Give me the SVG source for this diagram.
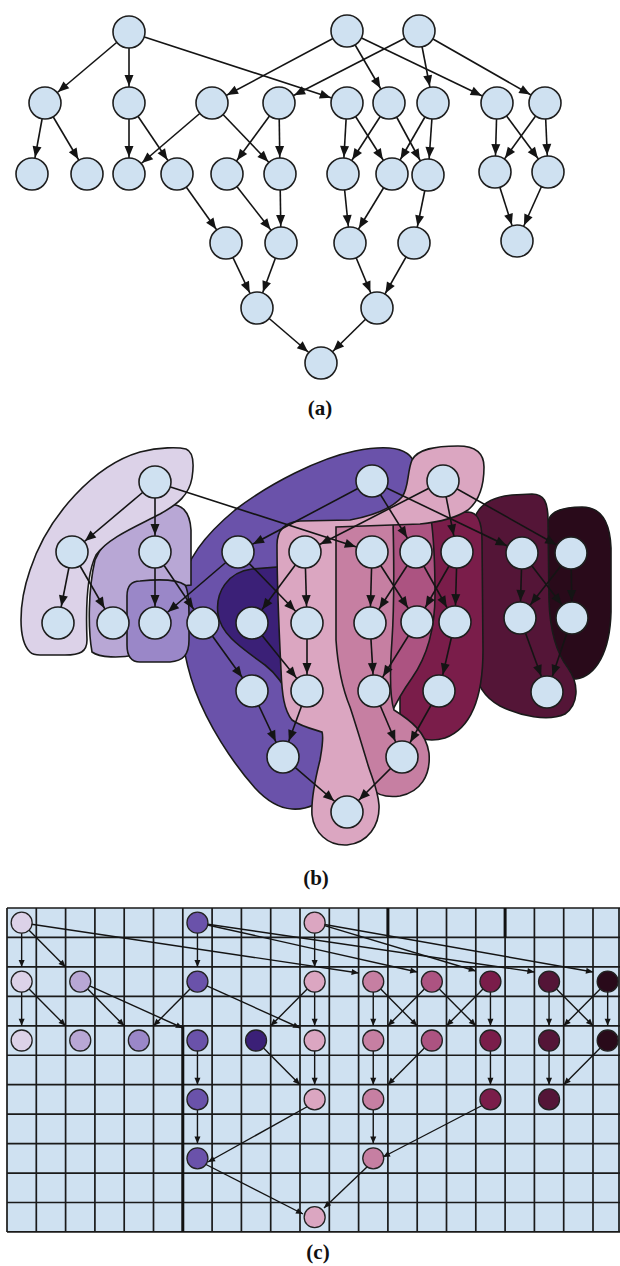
<svg xmlns="http://www.w3.org/2000/svg" width="620" height="1266" viewBox="0 0 620 1266">
  <style>
    .n { fill:#cfe1f1; stroke:#1e1e1e; stroke-width:1.6 }
    .e line { stroke:#141414; stroke-width:1.6; marker-end:url(#ah) }
    .ec line { stroke:#141414; stroke-width:1.4; marker-end:url(#ahc) }
    .blob { stroke:#1a1a1a; stroke-width:1.6 }
    .cn { stroke:#222; stroke-width:1.3 }
    .grid { fill:none; stroke:#1a1a1a; stroke-width:1.7 }
    .lbl { font-family:"Liberation Serif", "Times New Roman", serif; font-weight:bold; font-size:21px; text-anchor:middle; fill:#111 }
    .k1 { fill:#dcd2e8 } .k2 { fill:#b8a7d5 } .k3 { fill:#9a87c8 } .k4 { fill:#6a52aa }
    .k5 { fill:#3b2077 } .k6 { fill:#dba6c1 } .k7 { fill:#c67fa2 } .k8 { fill:#ac5381 }
    .k9 { fill:#7a1d4a } .k10 { fill:#541537 } .k11 { fill:#290a1a }
  </style>
  <defs>
    <!-- arrowhead whose tip stops at the rim of a radius-16 node -->
    <marker id="ah" markerUnits="userSpaceOnUse" markerWidth="11" markerHeight="9" refX="28" refY="4.5" orient="auto" overflow="visible">
      <path d="M0,0 L11,4.5 L0,9 Z" fill="#141414"/>
    </marker>
    <!-- small arrowhead for the grid layout, tip at the line end -->
    <marker id="ahc" markerUnits="userSpaceOnUse" markerWidth="8" markerHeight="6" refX="7" refY="3" orient="auto" overflow="visible">
      <path d="M0,0 L7,3 L0,6 Z" fill="#141414"/>
    </marker>
  </defs>
  <rect width="620" height="1266" fill="#ffffff"/>

  <!-- ===== (a) plain layered graph ===== -->
  <g id="a-edges" class="e">
    <line x1="129" y1="32" x2="45" y2="103"/>
    <line x1="129" y1="32" x2="129" y2="103"/>
    <line x1="129" y1="32" x2="347" y2="103"/>
    <line x1="347" y1="31" x2="212" y2="103"/>
    <line x1="347" y1="31" x2="389" y2="103"/>
    <line x1="347" y1="31" x2="497" y2="103"/>
    <line x1="419" y1="31" x2="279" y2="103"/>
    <line x1="419" y1="31" x2="433" y2="103"/>
    <line x1="419" y1="31" x2="545" y2="103"/>
    <line x1="45" y1="103" x2="32" y2="174"/>
    <line x1="45" y1="103" x2="87" y2="174"/>
    <line x1="129" y1="103" x2="129" y2="174"/>
    <line x1="129" y1="103" x2="177" y2="174"/>
    <line x1="212" y1="103" x2="129" y2="174"/>
    <line x1="212" y1="103" x2="280" y2="174"/>
    <line x1="279" y1="103" x2="227" y2="174"/>
    <line x1="279" y1="103" x2="280" y2="174"/>
    <line x1="347" y1="103" x2="343" y2="174"/>
    <line x1="347" y1="103" x2="392" y2="174"/>
    <line x1="389" y1="103" x2="343" y2="174"/>
    <line x1="389" y1="103" x2="428" y2="175"/>
    <line x1="433" y1="103" x2="392" y2="174"/>
    <line x1="433" y1="103" x2="428" y2="175"/>
    <line x1="497" y1="103" x2="495" y2="172"/>
    <line x1="497" y1="103" x2="548" y2="172"/>
    <line x1="545" y1="103" x2="495" y2="172"/>
    <line x1="545" y1="103" x2="548" y2="172"/>
    <line x1="177" y1="174" x2="226" y2="243"/>
    <line x1="227" y1="174" x2="281" y2="243"/>
    <line x1="280" y1="174" x2="281" y2="243"/>
    <line x1="343" y1="174" x2="350" y2="243"/>
    <line x1="392" y1="174" x2="350" y2="243"/>
    <line x1="428" y1="175" x2="414" y2="243"/>
    <line x1="495" y1="172" x2="517" y2="241"/>
    <line x1="548" y1="172" x2="517" y2="241"/>
    <line x1="226" y1="243" x2="257" y2="308"/>
    <line x1="281" y1="243" x2="257" y2="308"/>
    <line x1="350" y1="243" x2="377" y2="308"/>
    <line x1="414" y1="243" x2="377" y2="308"/>
    <line x1="257" y1="308" x2="321" y2="363"/>
    <line x1="377" y1="308" x2="321" y2="363"/>
  </g>
  <g id="a-A1"><circle class="n" cx="129" cy="32" r="16"/></g>
  <g id="a-A2"><circle class="n" cx="347" cy="31" r="16"/></g>
  <g id="a-A3"><circle class="n" cx="419" cy="31" r="16"/></g>
  <g id="a-B1"><circle class="n" cx="45" cy="103" r="16"/></g>
  <g id="a-B2"><circle class="n" cx="129" cy="103" r="16"/></g>
  <g id="a-B3"><circle class="n" cx="212" cy="103" r="16"/></g>
  <g id="a-B4"><circle class="n" cx="279" cy="103" r="16"/></g>
  <g id="a-B5"><circle class="n" cx="347" cy="103" r="16"/></g>
  <g id="a-B6"><circle class="n" cx="389" cy="103" r="16"/></g>
  <g id="a-B7"><circle class="n" cx="433" cy="103" r="16"/></g>
  <g id="a-B8"><circle class="n" cx="497" cy="103" r="16"/></g>
  <g id="a-B9"><circle class="n" cx="545" cy="103" r="16"/></g>
  <g id="a-C1"><circle class="n" cx="32" cy="174" r="16"/></g>
  <g id="a-C2"><circle class="n" cx="87" cy="174" r="16"/></g>
  <g id="a-C3"><circle class="n" cx="129" cy="174" r="16"/></g>
  <g id="a-C4"><circle class="n" cx="177" cy="174" r="16"/></g>
  <g id="a-C5"><circle class="n" cx="227" cy="174" r="16"/></g>
  <g id="a-C6"><circle class="n" cx="280" cy="174" r="16"/></g>
  <g id="a-C7"><circle class="n" cx="343" cy="174" r="16"/></g>
  <g id="a-C8"><circle class="n" cx="392" cy="174" r="16"/></g>
  <g id="a-C9"><circle class="n" cx="428" cy="175" r="16"/></g>
  <g id="a-C10"><circle class="n" cx="495" cy="172" r="16"/></g>
  <g id="a-C11"><circle class="n" cx="548" cy="172" r="16"/></g>
  <g id="a-D1"><circle class="n" cx="226" cy="243" r="16"/></g>
  <g id="a-D2"><circle class="n" cx="281" cy="243" r="16"/></g>
  <g id="a-D3"><circle class="n" cx="350" cy="243" r="16"/></g>
  <g id="a-D4"><circle class="n" cx="414" cy="243" r="16"/></g>
  <g id="a-D5"><circle class="n" cx="517" cy="241" r="16"/></g>
  <g id="a-E1"><circle class="n" cx="257" cy="308" r="16"/></g>
  <g id="a-E2"><circle class="n" cx="377" cy="308" r="16"/></g>
  <g id="a-F"><circle class="n" cx="321" cy="363" r="16"/></g>
  <text class="lbl" x="320" y="415">(a)</text>

  <!-- ===== (b) same graph with cluster regions ===== -->
  <g id="b-regions">
    <path class="blob k4" d="M355,451 C385,445 408,447 414,462 C419,478 412,496 396,507 C375,517 350,521 335,526 L330,790 C322,803 308,810 292,809 C278,808 266,800 255,788 C232,762 208,725 195,690 C184,660 178,622 181,590 C185,560 205,535 235,510 C270,483 320,458 355,451 Z"/>
    <path class="blob k11" d="M548,522 C550,511 562,507 582,507 C602,507 610,522 611,548 L611,612 C610,652 596,676 576,679 L548,679 Z"/>
    <path class="blob k10" d="M474,520 C478,505 492,497 512,495 L532,494 C544,494 548,502 548,520 L549,600 C550,635 558,655 568,668 C580,685 578,705 565,714 C548,722 520,716 500,706 C485,698 476,685 474,665 Z"/>
    <path class="blob k9" d="M400,525 C402,516 415,514 430,514 L468,512 C478,512 482,522 482,540 L483,650 C483,695 472,728 445,738 C428,743 410,738 400,725 Z"/>
    <path class="blob k8" d="M385,522 L431,518 C434,540 435,570 435,595 C435,630 426,658 412,678 C402,692 395,705 390,716 L385,716 Z"/>
    <path class="blob k7" d="M322,535 C324,524 335,521 352,521 L393,520 C394,560 394,610 392,640 C390,668 389,695 394,710 C410,720 426,732 429,753 C431,776 420,792 400,796 C386,798 376,794 370,788 C358,760 345,720 337,690 C330,650 325,600 322,535 Z"/>
    <path class="blob k5" d="M290,566 L252,569 C228,572 215,592 218,614 C221,636 245,650 265,665 C278,675 286,688 292,702 Z"/>
    <path class="blob k6" d="M277,545 C277,530 285,522 300,521 L350,520 C372,516 392,508 402,497 C409,488 407,472 412,460 C418,449 435,446 458,446 C476,446 484,453 484,467 C484,484 480,500 468,510 C456,518 440,522 420,524 L336,527 L336,640 C338,670 343,690 350,707 C356,725 362,745 368,765 C372,778 378,790 379,805 C380,825 368,843 347,845 C327,846 314,832 312,815 C311,800 315,780 320,760 C322,748 324,738 322,732 C312,729 300,726 292,720 C284,710 282,695 281,670 C279,630 277,590 277,545 Z"/>
    <path class="blob k2" d="M95,560 C105,535 140,512 165,505 C182,502 190,512 191,530 L191,585 L140,590 L135,655 C120,658 100,658 92,652 C88,630 88,590 95,560 Z"/>
    <path class="blob k3" d="M140,581 C160,579 178,580 185,585 C190,592 189,620 189,640 C189,655 183,661 170,662 L140,662 C130,662 127,655 127,645 L127,596 C127,586 131,581 140,581 Z"/>
    <path class="blob k1" d="M30,652 C18,640 18,605 30,570 C48,515 95,465 140,452 C160,447 178,447 186,449 C194,452 194,465 192,478 C189,495 178,504 160,514 C135,527 108,538 96,555 C86,575 86,615 87,640 C87,652 80,655 65,655 L40,655 C35,655 32,654 30,652 Z"/>
  </g>
  <g id="b-edges" class="e">
    <line x1="155" y1="482" x2="72" y2="552"/>
    <line x1="155" y1="482" x2="155" y2="552"/>
    <line x1="155" y1="482" x2="372" y2="552"/>
    <line x1="372" y1="481" x2="238" y2="552"/>
    <line x1="372" y1="481" x2="416" y2="552"/>
    <line x1="372" y1="481" x2="522" y2="553"/>
    <line x1="443" y1="481" x2="305" y2="552"/>
    <line x1="443" y1="481" x2="457" y2="552"/>
    <line x1="443" y1="481" x2="571" y2="553"/>
    <line x1="72" y1="552" x2="58" y2="623"/>
    <line x1="72" y1="552" x2="113" y2="623"/>
    <line x1="155" y1="552" x2="155" y2="623"/>
    <line x1="155" y1="552" x2="203" y2="623"/>
    <line x1="238" y1="552" x2="155" y2="623"/>
    <line x1="238" y1="552" x2="307" y2="623"/>
    <line x1="305" y1="552" x2="252" y2="623"/>
    <line x1="305" y1="552" x2="307" y2="623"/>
    <line x1="372" y1="552" x2="370" y2="623"/>
    <line x1="372" y1="552" x2="417" y2="622"/>
    <line x1="416" y1="552" x2="370" y2="623"/>
    <line x1="416" y1="552" x2="455" y2="622"/>
    <line x1="457" y1="552" x2="417" y2="622"/>
    <line x1="457" y1="552" x2="455" y2="622"/>
    <line x1="522" y1="553" x2="520" y2="618"/>
    <line x1="522" y1="553" x2="572" y2="618"/>
    <line x1="571" y1="553" x2="520" y2="618"/>
    <line x1="571" y1="553" x2="572" y2="618"/>
    <line x1="203" y1="623" x2="252" y2="691"/>
    <line x1="252" y1="623" x2="307" y2="691"/>
    <line x1="307" y1="623" x2="307" y2="691"/>
    <line x1="370" y1="623" x2="374" y2="691"/>
    <line x1="417" y1="622" x2="374" y2="691"/>
    <line x1="455" y1="622" x2="439" y2="691"/>
    <line x1="520" y1="618" x2="547" y2="692"/>
    <line x1="572" y1="618" x2="547" y2="692"/>
    <line x1="252" y1="691" x2="283" y2="757"/>
    <line x1="307" y1="691" x2="283" y2="757"/>
    <line x1="374" y1="691" x2="402" y2="757"/>
    <line x1="439" y1="691" x2="402" y2="757"/>
    <line x1="283" y1="757" x2="347" y2="812"/>
    <line x1="402" y1="757" x2="347" y2="812"/>
  </g>
  <g id="b-A1"><circle class="n" cx="155" cy="482" r="16"/></g>
  <g id="b-A2"><circle class="n" cx="372" cy="481" r="16"/></g>
  <g id="b-A3"><circle class="n" cx="443" cy="481" r="16"/></g>
  <g id="b-B1"><circle class="n" cx="72" cy="552" r="16"/></g>
  <g id="b-B2"><circle class="n" cx="155" cy="552" r="16"/></g>
  <g id="b-B3"><circle class="n" cx="238" cy="552" r="16"/></g>
  <g id="b-B4"><circle class="n" cx="305" cy="552" r="16"/></g>
  <g id="b-B5"><circle class="n" cx="372" cy="552" r="16"/></g>
  <g id="b-B6"><circle class="n" cx="416" cy="552" r="16"/></g>
  <g id="b-B7"><circle class="n" cx="457" cy="552" r="16"/></g>
  <g id="b-B8"><circle class="n" cx="522" cy="553" r="16"/></g>
  <g id="b-B9"><circle class="n" cx="571" cy="553" r="16"/></g>
  <g id="b-C1"><circle class="n" cx="58" cy="623" r="16"/></g>
  <g id="b-C2"><circle class="n" cx="113" cy="623" r="16"/></g>
  <g id="b-C3"><circle class="n" cx="155" cy="623" r="16"/></g>
  <g id="b-C4"><circle class="n" cx="203" cy="623" r="16"/></g>
  <g id="b-C5"><circle class="n" cx="252" cy="623" r="16"/></g>
  <g id="b-C6"><circle class="n" cx="307" cy="623" r="16"/></g>
  <g id="b-C7"><circle class="n" cx="370" cy="623" r="16"/></g>
  <g id="b-C8"><circle class="n" cx="417" cy="622" r="16"/></g>
  <g id="b-C9"><circle class="n" cx="455" cy="622" r="16"/></g>
  <g id="b-C10"><circle class="n" cx="520" cy="618" r="16"/></g>
  <g id="b-C11"><circle class="n" cx="572" cy="618" r="16"/></g>
  <g id="b-D1"><circle class="n" cx="252" cy="691" r="16"/></g>
  <g id="b-D2"><circle class="n" cx="307" cy="691" r="16"/></g>
  <g id="b-D3"><circle class="n" cx="374" cy="691" r="16"/></g>
  <g id="b-D4"><circle class="n" cx="439" cy="691" r="16"/></g>
  <g id="b-D5"><circle class="n" cx="547" cy="692" r="16"/></g>
  <g id="b-E1"><circle class="n" cx="283" cy="757" r="16"/></g>
  <g id="b-E2"><circle class="n" cx="402" cy="757" r="16"/></g>
  <g id="b-F"><circle class="n" cx="347" cy="812" r="16"/></g>
  <text class="lbl" x="316" y="885">(b)</text>

  <!-- ===== (c) grid placement, nodes coloured by cluster ===== -->
  <g id="c-grid">
    <rect x="7" y="908" width="613" height="324" fill="#cfe1f1"/>
    <path class="grid" d="M7,908V1232 M36.3,908V1232 M65.6,908V1232 M94.9,908V1232 M124.2,908V1232 M153.5,908V1232 M182.8,908V1232 M212.1,908V1232 M241.4,908V1232 M270.7,908V1232 M300,908V1232 M329.3,908V1232 M358.6,908V1232 M387.9,908V1232 M417.2,908V1232 M446.5,908V1232 M475.8,908V1232 M505.1,908V1232 M534.4,908V1232 M563.7,908V1232 M593,908V1232 M619,908V1232
      M7,908H620 M7,937.45H620 M7,966.9H620 M7,996.35H620 M7,1025.8H620 M7,1055.25H620 M7,1084.7H620 M7,1114.15H620 M7,1143.6H620 M7,1173.05H620 M7,1202.5H620 M7,1231.95H620"/>
    <path fill="none" stroke="#111" stroke-width="3" d="M182.8,1026V1232 M387.9,908V937 M505.1,908V937"/>
  </g>
  <g id="c-edges" class="ec">
    <line x1="21.65" y1="922.7" x2="21.65" y2="966.9"/>
    <line x1="21.65" y1="922.7" x2="65.6" y2="966.9"/>
    <line x1="21.65" y1="922.7" x2="358.6" y2="973"/>
    <line x1="197.45" y1="922.7" x2="197.45" y2="966.9"/>
    <line x1="197.45" y1="922.7" x2="417.2" y2="972"/>
    <line x1="197.45" y1="922.7" x2="534.4" y2="972"/>
    <line x1="314.65" y1="922.7" x2="314.65" y2="966.9"/>
    <line x1="314.65" y1="922.7" x2="475.8" y2="971"/>
    <line x1="314.65" y1="922.7" x2="593" y2="972"/>
    <line x1="21.65" y1="981.6" x2="21.65" y2="1025.8"/>
    <line x1="21.65" y1="981.6" x2="65.6" y2="1025.8"/>
    <line x1="80.25" y1="981.6" x2="124.2" y2="1025.8"/>
    <line x1="80.25" y1="981.6" x2="182.8" y2="1028"/>
    <line x1="197.45" y1="981.6" x2="153.5" y2="1025.8"/>
    <line x1="197.45" y1="981.6" x2="300" y2="1028"/>
    <line x1="314.65" y1="981.6" x2="270.7" y2="1025.8"/>
    <line x1="314.65" y1="981.6" x2="314.65" y2="1025.8"/>
    <line x1="373.25" y1="981.6" x2="373.25" y2="1025.8"/>
    <line x1="373.25" y1="981.6" x2="417.2" y2="1025.8"/>
    <line x1="431.85" y1="981.6" x2="387.9" y2="1025.8"/>
    <line x1="431.85" y1="981.6" x2="475.8" y2="1025.8"/>
    <line x1="490.45" y1="981.6" x2="446.5" y2="1025.8"/>
    <line x1="490.45" y1="981.6" x2="490.45" y2="1025.8"/>
    <line x1="549.05" y1="981.6" x2="549.05" y2="1025.8"/>
    <line x1="549.05" y1="981.6" x2="593" y2="1025.8"/>
    <line x1="607.65" y1="981.6" x2="563.7" y2="1025.8"/>
    <line x1="607.65" y1="981.6" x2="607.65" y2="1025.8"/>
    <line x1="197.45" y1="1040.5" x2="197.45" y2="1084.7"/>
    <line x1="256.05" y1="1040.5" x2="300" y2="1084.7"/>
    <line x1="314.65" y1="1040.5" x2="314.65" y2="1084.7"/>
    <line x1="373.25" y1="1040.5" x2="373.25" y2="1084.7"/>
    <line x1="431.85" y1="1040.5" x2="387.9" y2="1084.7"/>
    <line x1="490.45" y1="1040.5" x2="490.45" y2="1084.7"/>
    <line x1="549.05" y1="1040.5" x2="549.05" y2="1084.7"/>
    <line x1="607.65" y1="1040.5" x2="563.7" y2="1084.7"/>
    <line x1="197.45" y1="1099.4" x2="197.45" y2="1143.6"/>
    <line x1="312" y1="1104" x2="208" y2="1162"/>
    <line x1="373.25" y1="1099.4" x2="373.25" y2="1143.6"/>
    <line x1="485" y1="1104" x2="383" y2="1157"/>
    <line x1="205" y1="1164" x2="303" y2="1214"/>
    <line x1="368" y1="1166" x2="324" y2="1208"/>
  </g>
  <g id="c-A1"><circle class="cn k1" cx="21.65" cy="922.7" r="10.5"/></g>
  <g id="c-A2"><circle class="cn k4" cx="197.45" cy="922.7" r="10.5"/></g>
  <g id="c-A3"><circle class="cn k6" cx="314.65" cy="922.7" r="10.5"/></g>
  <g id="c-B1"><circle class="cn k1" cx="21.65" cy="981.6" r="10.5"/></g>
  <g id="c-B2"><circle class="cn k2" cx="80.25" cy="981.6" r="10.5"/></g>
  <g id="c-B3"><circle class="cn k4" cx="197.45" cy="981.6" r="10.5"/></g>
  <g id="c-B4"><circle class="cn k6" cx="314.65" cy="981.6" r="10.5"/></g>
  <g id="c-B5"><circle class="cn k7" cx="373.25" cy="981.6" r="10.5"/></g>
  <g id="c-B6"><circle class="cn k8" cx="431.85" cy="981.6" r="10.5"/></g>
  <g id="c-B7"><circle class="cn k9" cx="490.45" cy="981.6" r="10.5"/></g>
  <g id="c-B8"><circle class="cn k10" cx="549.05" cy="981.6" r="10.5"/></g>
  <g id="c-B9"><circle class="cn k11" cx="607.65" cy="981.6" r="10.5"/></g>
  <g id="c-C1"><circle class="cn k1" cx="21.65" cy="1040.5" r="10.5"/></g>
  <g id="c-C2"><circle class="cn k2" cx="80.25" cy="1040.5" r="10.5"/></g>
  <g id="c-C3"><circle class="cn k3" cx="138.85" cy="1040.5" r="10.5"/></g>
  <g id="c-C4"><circle class="cn k4" cx="197.45" cy="1040.5" r="10.5"/></g>
  <g id="c-C5"><circle class="cn k5" cx="256.05" cy="1040.5" r="10.5"/></g>
  <g id="c-C6"><circle class="cn k6" cx="314.65" cy="1040.5" r="10.5"/></g>
  <g id="c-C7"><circle class="cn k7" cx="373.25" cy="1040.5" r="10.5"/></g>
  <g id="c-C8"><circle class="cn k8" cx="431.85" cy="1040.5" r="10.5"/></g>
  <g id="c-C9"><circle class="cn k9" cx="490.45" cy="1040.5" r="10.5"/></g>
  <g id="c-C10"><circle class="cn k10" cx="549.05" cy="1040.5" r="10.5"/></g>
  <g id="c-C11"><circle class="cn k11" cx="607.65" cy="1040.5" r="10.5"/></g>
  <g id="c-D1"><circle class="cn k4" cx="197.45" cy="1099.4" r="10.5"/></g>
  <g id="c-D2"><circle class="cn k6" cx="314.65" cy="1099.4" r="10.5"/></g>
  <g id="c-D3"><circle class="cn k7" cx="373.25" cy="1099.4" r="10.5"/></g>
  <g id="c-D4"><circle class="cn k9" cx="490.45" cy="1099.4" r="10.5"/></g>
  <g id="c-D5"><circle class="cn k10" cx="549.05" cy="1099.4" r="10.5"/></g>
  <g id="c-E1"><circle class="cn k4" cx="197.45" cy="1158.3" r="10.5"/></g>
  <g id="c-E2"><circle class="cn k7" cx="373.25" cy="1158.3" r="10.5"/></g>
  <g id="c-F"><circle class="cn k6" cx="314.65" cy="1217.2" r="10.5"/></g>
  <text class="lbl" x="318" y="1259">(c)</text>
</svg>
